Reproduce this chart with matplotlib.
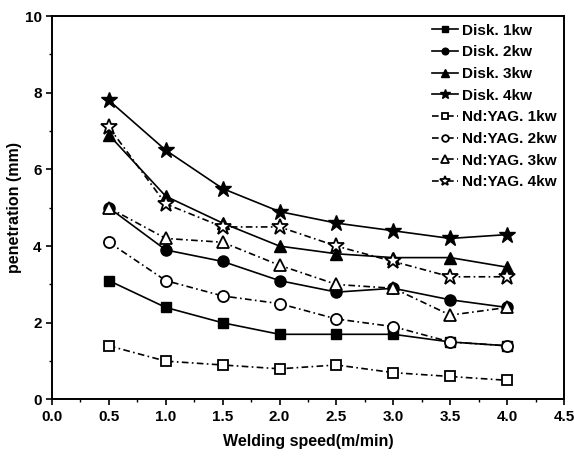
from matplotlib import pyplot as plt
from matplotlib.ticker import MultipleLocator

# welding speed (m/min)
speed = [0.5, 1.0, 1.5, 2.0, 2.5, 3.0, 3.5, 4.0]

# penetration (mm), disk laser
disk_1kw = [3.1, 2.4, 2.0, 1.7, 1.7, 1.7, 1.5, 1.4]
disk_2kw = [5.0, 3.9, 3.6, 3.1, 2.8, 2.9, 2.6, 2.4]
disk_3kw = [6.9, 5.3, 4.6, 4.0, 3.8, 3.7, 3.7, 3.45]
disk_4kw = [7.8, 6.5, 5.5, 4.9, 4.6, 4.4, 4.2, 4.3]

# penetration (mm), Nd:YAG laser
yag_1kw = [1.4, 1.0, 0.9, 0.8, 0.9, 0.7, 0.6, 0.5]
yag_2kw = [4.1, 3.1, 2.7, 2.5, 2.1, 1.9, 1.5, 1.4]
yag_3kw = [5.0, 4.2, 4.1, 3.5, 3.0, 2.9, 2.2, 2.4]
yag_4kw = [7.1, 5.1, 4.5, 4.5, 4.0, 3.6, 3.2, 3.2]

disk_labels = ["Disk. 1kw", "Disk. 2kw", "Disk. 3kw", "Disk. 4kw"]
yag_labels = ["Nd:YAG. 1kw", "Nd:YAG. 2kw", "Nd:YAG. 3kw", "Nd:YAG. 4kw"]

plt.rcParams["font.family"] = ["Liberation Sans", "DejaVu Sans"]
plt.rcParams["font.weight"] = "bold"

fig = plt.figure(figsize=(5.74, 4.62), dpi=100)
ax = fig.add_axes([0.0906, 0.1353, 0.892, 0.830])

markers = ["s", "o", "^", "*"]
sizes = [7.5, 8, 8.5, 12]
dash = (0, (4, 2, 1, 2))

for vals, lab, m, s in zip([disk_1kw, disk_2kw, disk_3kw, disk_4kw],
                           disk_labels, markers, sizes):
    ax.plot(speed, vals, color="black", lw=1.2, marker=m, ms=s,
            mfc="black", mec="black", label=lab, zorder=3)

for vals, lab, m, s in zip([yag_1kw, yag_2kw, yag_3kw, yag_4kw],
                           yag_labels, markers, sizes):
    ax.plot(speed, vals, color="black", lw=1.2, ls=dash, marker=m, ms=s,
            mfc="white", mec="black", mew=1.3, label=lab, zorder=4)

ax.set_xlim(0, 4.5)
ax.set_ylim(0, 10)
ax.xaxis.set_major_locator(MultipleLocator(0.5))
ax.xaxis.set_minor_locator(MultipleLocator(0.25))
ax.yaxis.set_major_locator(MultipleLocator(2))
ax.yaxis.set_minor_locator(MultipleLocator(1))
ax.tick_params(which="major", direction="out", length=4, width=1.2,
               labelsize=11, top=False, right=False)
ax.tick_params(which="minor", direction="out", length=2.5, width=1.0,
               top=False, right=False)
for sp in ax.spines.values():
    sp.set_linewidth(1.4)

ax.set_xlabel("Welding speed(m/min)", fontsize=11.5, fontweight="bold", labelpad=7)
ax.set_ylabel("penetration (mm)", fontsize=11.5, fontweight="bold")
ax.yaxis.set_label_coords(-0.058, 0.5)

leg = ax.legend(loc="upper right", frameon=False, fontsize=11,
                handlelength=1.7, handletextpad=0.25, labelspacing=0.5,
                borderaxespad=0.1, markerscale=0.6)

fig.savefig("out.png", dpi=100)
